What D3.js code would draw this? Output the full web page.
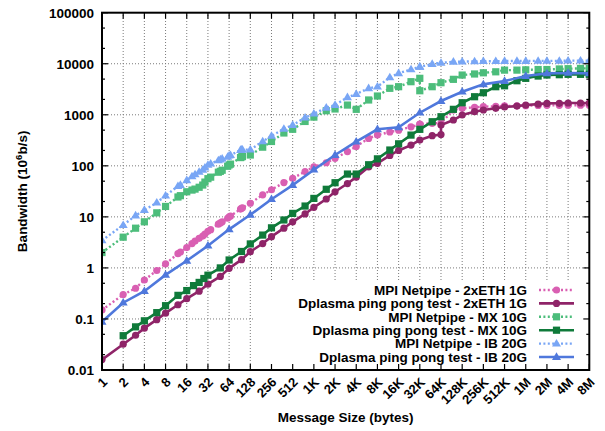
<!DOCTYPE html>
<html><head><meta charset="utf-8">
<script src="https://cdn.jsdelivr.net/npm/d3@7"></script>
<style>body{margin:0;background:#fff}svg{display:block}text{font-family:"Liberation Sans",Arial,sans-serif;font-weight:bold;fill:#000}</style>
</head><body><svg id="c" width="605" height="431"></svg>
<script>
// ---------- data ----------
const xTickValues = [1,2,4,8,16,32,64,128,256,512,1024,2048,4096,8192,16384,32768,65536,131072,262144,524288,1048576,2097152,4194304,8388608];
const xTickLabels = ["1","2","4","8","16","32","64","128","256","512","1K","2K","4K","8K","16K","32K","64K","128K","256K","512K","1M","2M","4M","8M"];
const yTickValues = [0.01,0.1,1,10,100,1000,10000,100000];
const yTickLabels = ["0.01","0.1","1","10","100","1000","10000","100000"];

const netpipeSizes = [1,2,3,4,6,8,12,13,16,19,21,24,27,29,32,35,45,48,51,61,64,67,93,96,99,128,192,256,384,512,768,1024,1536,2048,3072,4096,6144,8192,12288,16384,24576,32765,32768,49152,65536,98304,131072,196608,262144,393216,524288,786432,1048576,1572864,2097152,3145728,4194304,6291456,8388608];
const eth1gNetpipe = [0.15,0.30,0.40,0.58,0.89,1.2,1.9,2.05,2.5,3.0,3.35,3.8,4.2,4.6,5.2,5.6,7.2,7.6,8.0,9.4,10,10.4,14.2,14.7,15.1,18.5,27,34,47,57,77,96,115,140,190,240,345,400,460,500,580,650,660,680,690,1240,1340,1400,1440,1470,1490,1500,1510,1520,1530,1530,1540,1540,1540];
const mx10gNetpipe = [2.0,4.0,6.0,8.0,12,16,24.5,26,31,33.5,35,38,42,48,56,60,75,78,82,98,104,108,145,150,152,163,232,300,440,520,740,900,1200,1300,1550,1280,1950,2330,3300,3550,4450,5180,2960,3550,4250,4950,6000,6300,6650,6950,7500,7500,7600,7700,7700,7900,8000,8100,8100];
const ib20gNetpipe = [3.45,6.9,10.6,13.6,19,26,40,42,52,62,68,76,83,92,104,110,128,133,138,150,158,162,204,206,207,208,300,385,530,630,880,1050,1370,1550,2200,2550,3300,3550,5400,6500,7750,8700,8700,9850,10400,10900,11000,11100,11200,11200,11300,11300,11300,11400,11400,11400,11500,11500,11500];

const eth1gDplasmaSizes = [1,2,3,4,6,8,12,16,24,32,48,64,96,128,192,256,384,512,768,1024,1536,2048,3072,4096,6144,8192,12288,16384,24576,32768,49152,65536,65536,98304,131072,196608,262144,393216,524288,786432,1048576,1572864,2097152,3145728,4194304,6291456,8388608];
const eth1gDplasma = [0.016,0.032,0.048,0.066,0.097,0.13,0.19,0.25,0.35,0.48,0.68,0.98,1.45,2.08,3.0,4.1,6.0,8.0,11.4,15.4,22.4,31,45,60,95,112,160,200,255,320,390,410,630,790,990,1150,1240,1340,1420,1480,1550,1620,1670,1680,1700,1700,1700];
const mx10gDplasmaSizes = [2,3,4,6,8,12,16,20,24,28,32,48,64,96,128,192,256,384,512,768,1024,1536,2048,3072,4096,6144,8192,12288,16384,24576,32768,49152,65536,98304,131072,196608,262144,393216,524288,786432,1048576,1572864,2097152,3145728,4194304,6291456,8388608];
const mx10gDplasma = [0.047,0.07,0.092,0.133,0.182,0.29,0.36,0.45,0.52,0.62,0.72,1.0,1.43,2.1,2.95,4.4,6.1,8.7,11.7,16.3,23,34.7,46.7,69,69,105,137,204,270,400,519,731,916,1279,1722,2258,2705,3546,3700,4645,5176,5741,6012,6100,6200,6200,6200];
const ib20gDplasmaSizes = [1,2,4,8,16,32,64,128,256,512,1024,2048,4096,8192,16384,32768,65536,131072,262144,524288,1048576,2097152,4194304,8388608];
const ib20gDplasma = [0.088,0.208,0.35,0.73,1.38,2.72,5.7,11,22.2,42,84,163,297,520,568,1097,1859,2832,3948,4581,5741,6477,6600,6477];

const seriesNames = ["MPI Netpipe - 2xETH 1G","Dplasma ping pong test - 2xETH 1G","MPI Netpipe - MX 10G","Dplasma ping pong test - MX 10G","MPI Netpipe - IB 20G","Dplasma ping pong test - IB 20G"];

// ---------- styles ----------
const series = [
  {name:seriesNames[0], xs:netpipeSizes, ys:eth1gNetpipe, color:"#d95fb2", dotted:true, marker:"circle"},
  {name:seriesNames[1], xs:eth1gDplasmaSizes, ys:eth1gDplasma, color:"#8f2468", dotted:false, marker:"circle"},
  {name:seriesNames[2], xs:netpipeSizes, ys:mx10gNetpipe, color:"#4cbd7b", dotted:true, marker:"square"},
  {name:seriesNames[3], xs:mx10gDplasmaSizes, ys:mx10gDplasma, color:"#0f7a3a", dotted:false, marker:"square"},
  {name:seriesNames[4], xs:netpipeSizes, ys:ib20gNetpipe, color:"#79a6f5", dotted:true, marker:"triangle"},
  {name:seriesNames[5], xs:ib20gDplasmaSizes, ys:ib20gDplasma, color:"#4f78dc", dotted:false, marker:"triangle"}
];

const L = 102, R = 589.3, T = 12.7, B = 370;
const x = d3.scaleLog().base(2).domain([1, 8388608]).range([L, R]);
const y = d3.scaleLog().base(10).domain([0.01, 100000]).range([B, T]);

const svg = d3.select("#c");

// grid
const grid = svg.append("g").attr("stroke","#7a7a7a").attr("stroke-width",1).attr("stroke-dasharray","1,2");
xTickValues.slice(1, -1).forEach(v => {
  grid.append("line").attr("x1",x(v)).attr("x2",x(v)).attr("y1",B).attr("y2",T);
});
yTickValues.slice(1, -1).forEach(v => {
  grid.append("line").attr("x1",L).attr("x2",R).attr("y1",y(v)).attr("y2",y(v));
});

// legend background (opaque key box)
const keyBox = {x0: 255, x1: R - 1, y0: 282, y1: B - 1};
svg.append("rect").attr("x",keyBox.x0).attr("y",keyBox.y0).attr("width",keyBox.x1-keyBox.x0).attr("height",keyBox.y1-keyBox.y0).attr("fill","#fff");

function drawMarker(g, cx, cy, type, color) {
  if (type === "circle") {
    g.append("circle").attr("cx",cx).attr("cy",cy).attr("r",3.6).attr("fill",color);
  } else if (type === "square") {
    g.append("rect").attr("x",cx-3.6).attr("y",cy-3.6).attr("width",7.2).attr("height",7.2).attr("fill",color);
  } else {
    const h = 7.6, w = 9;
    g.append("path").attr("d",`M${cx},${cy-h*0.62}L${cx+w/2},${cy+h*0.38}L${cx-w/2},${cy+h*0.38}Z`).attr("fill",color);
  }
}

const clip = svg.append("clipPath").attr("id","pc").append("rect").attr("x",L).attr("y",T).attr("width",R-L).attr("height",B-T);
const plot = svg.append("g").attr("clip-path","url(#pc)");

series.forEach(s => {
  const pts = s.xs.map((v,i) => [x(v), y(s.ys[i])]);
  plot.append("path").attr("d", d3.line()(pts)).attr("fill","none")
    .attr("stroke", s.color).attr("stroke-width", s.dotted ? 2.4 : 2.6)
    .attr("stroke-dasharray", s.dotted ? "2,2.4" : null);
  const mg = plot.append("g");
  pts.forEach(p => drawMarker(mg, p[0], p[1], s.marker, s.color));
});

// frame
svg.append("rect").attr("x",L).attr("y",T).attr("width",R-L).attr("height",B-T).attr("fill","none").attr("stroke","#000").attr("stroke-width",2);

// ticks
const tk = svg.append("g").attr("stroke","#000").attr("stroke-width",1.2);
xTickValues.forEach(v => {
  tk.append("line").attr("x1",x(v)).attr("x2",x(v)).attr("y1",B).attr("y2",B-6);
  tk.append("line").attr("x1",x(v)).attr("x2",x(v)).attr("y1",T).attr("y2",T+6);
});
yTickValues.forEach((v,i) => {
  tk.append("line").attr("x1",L).attr("x2",L+6).attr("y1",y(v)).attr("y2",y(v));
  tk.append("line").attr("x1",R).attr("x2",R-6).attr("y1",y(v)).attr("y2",y(v));
  if (i < yTickValues.length - 1) {
    [2,5].forEach(m => {
      const yy = y(v*m);
      tk.append("line").attr("x1",L).attr("x2",L+3).attr("y1",yy).attr("y2",yy);
      tk.append("line").attr("x1",R).attr("x2",R-3).attr("y1",yy).attr("y2",yy);
    });
  }
});

// tick labels
yTickValues.forEach((v,i) => {
  svg.append("text").attr("x",94).attr("y",y(v)).attr("dy","0.36em").attr("text-anchor","end")
    .attr("font-size","13.5px").text(yTickLabels[i]);
});
xTickValues.forEach((v,i) => {
  svg.append("text").attr("transform",`translate(${x(v)+6},${383}) rotate(-45)`).attr("text-anchor","end")
    .attr("font-size","13px").text(xTickLabels[i]);
});

// axis titles
svg.append("text").attr("x",(L+R)/2).attr("y",422).attr("text-anchor","middle").attr("font-size","13.5px").text("Message Size (bytes)");
const yt = svg.append("text").attr("transform",`translate(27,${(T+B)/2}) rotate(-90)`).attr("text-anchor","middle").attr("font-size","13.5px");
yt.append("tspan").text("Bandwidth (10");
yt.append("tspan").attr("dy",-5).attr("font-size","9.5px").text("6");
yt.append("tspan").attr("dy",5).text("b/s)");

// legend
const legY0 = 290, legStep = 13.4;
series.forEach((s,i) => {
  const yy = legY0 + i*legStep;
  svg.append("text").attr("x",527).attr("y",yy).attr("dy","0.36em").attr("text-anchor","end").attr("font-size","13.5px").text(s.name);
  svg.append("line").attr("x1",539).attr("x2",574).attr("y1",yy).attr("y2",yy)
    .attr("stroke",s.color).attr("stroke-width", s.dotted ? 2.4 : 2.6).attr("stroke-dasharray", s.dotted ? "2,2.4" : null);
  drawMarker(svg, 556.5, yy, s.marker, s.color);
});
</script></body></html>
